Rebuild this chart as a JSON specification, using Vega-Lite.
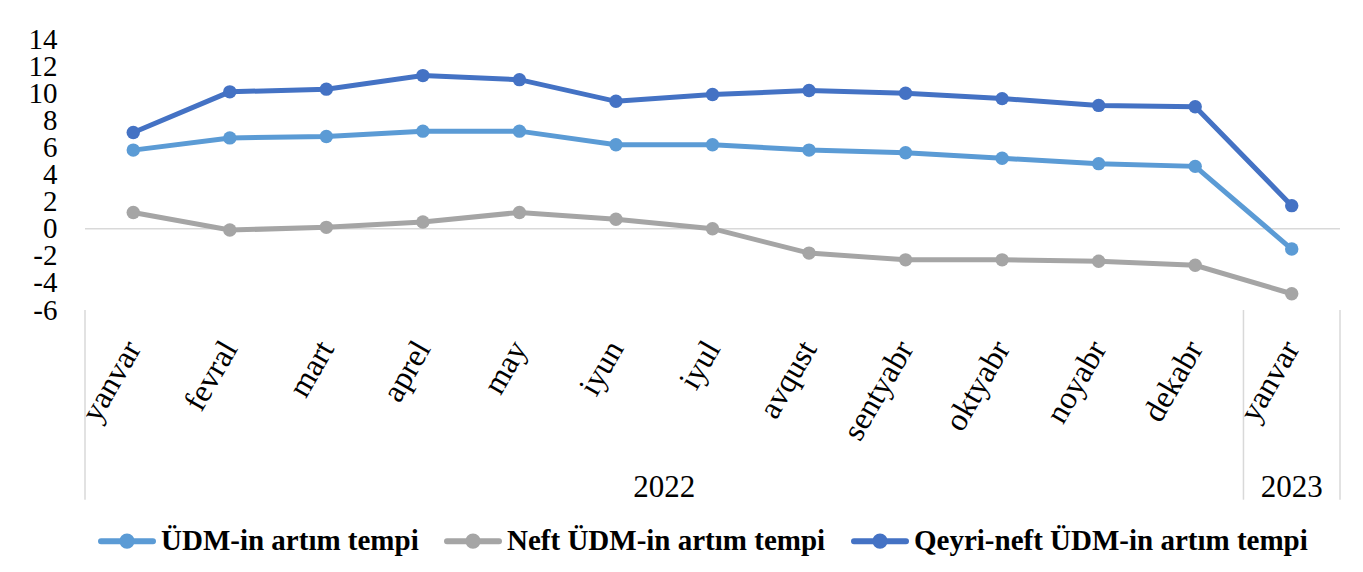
{
  "$schema": "https://vega.github.io/schema/vega-lite/v6.json",
  "width": 1255,
  "height": 271,
  "autosize": "none",
  "padding": {"left": 85, "top": 39, "right": 23, "bottom": 262},
  "background": "white",
  "config": {
    "view": {"stroke": null},
    "font": "Liberation Serif",
    "axisY": {
      "labelOverlap": false,
      "labelFlush": false,
      "labelBound": false,
      "grid": false,
      "domain": false,
      "ticks": false,
      "tickSize": 0,
      "labelPadding": 28,
      "labelFont": "Liberation Serif",
      "labelFontSize": 29,
      "labelColor": "#000000",
      "labelBaseline": "middle",
      "title": null
    }
  },
  "datasets": {
    "series": [
      {"key": "yanvar 2022", "series": "ÜDM-in artım tempi", "value": 5.8},
      {"key": "fevral 2022", "series": "ÜDM-in artım tempi", "value": 6.7},
      {"key": "mart 2022", "series": "ÜDM-in artım tempi", "value": 6.8},
      {"key": "aprel 2022", "series": "ÜDM-in artım tempi", "value": 7.2},
      {"key": "may 2022", "series": "ÜDM-in artım tempi", "value": 7.2},
      {"key": "iyun 2022", "series": "ÜDM-in artım tempi", "value": 6.2},
      {"key": "iyul 2022", "series": "ÜDM-in artım tempi", "value": 6.2},
      {"key": "avqust 2022", "series": "ÜDM-in artım tempi", "value": 5.8},
      {"key": "sentyabr 2022", "series": "ÜDM-in artım tempi", "value": 5.6},
      {"key": "oktyabr 2022", "series": "ÜDM-in artım tempi", "value": 5.2},
      {"key": "noyabr 2022", "series": "ÜDM-in artım tempi", "value": 4.8},
      {"key": "dekabr 2022", "series": "ÜDM-in artım tempi", "value": 4.6},
      {"key": "yanvar 2023", "series": "ÜDM-in artım tempi", "value": -1.5},
      {"key": "yanvar 2022", "series": "Neft ÜDM-in artım tempi", "value": 1.2},
      {"key": "fevral 2022", "series": "Neft ÜDM-in artım tempi", "value": -0.1},
      {"key": "mart 2022", "series": "Neft ÜDM-in artım tempi", "value": 0.1},
      {"key": "aprel 2022", "series": "Neft ÜDM-in artım tempi", "value": 0.5},
      {"key": "may 2022", "series": "Neft ÜDM-in artım tempi", "value": 1.2},
      {"key": "iyun 2022", "series": "Neft ÜDM-in artım tempi", "value": 0.7},
      {"key": "iyul 2022", "series": "Neft ÜDM-in artım tempi", "value": 0.0},
      {"key": "avqust 2022", "series": "Neft ÜDM-in artım tempi", "value": -1.8},
      {"key": "sentyabr 2022", "series": "Neft ÜDM-in artım tempi", "value": -2.3},
      {"key": "oktyabr 2022", "series": "Neft ÜDM-in artım tempi", "value": -2.3},
      {"key": "noyabr 2022", "series": "Neft ÜDM-in artım tempi", "value": -2.4},
      {"key": "dekabr 2022", "series": "Neft ÜDM-in artım tempi", "value": -2.7},
      {"key": "yanvar 2023", "series": "Neft ÜDM-in artım tempi", "value": -4.8},
      {"key": "yanvar 2022", "series": "Qeyri-neft ÜDM-in artım tempi", "value": 7.1},
      {"key": "fevral 2022", "series": "Qeyri-neft ÜDM-in artım tempi", "value": 10.1},
      {"key": "mart 2022", "series": "Qeyri-neft ÜDM-in artım tempi", "value": 10.3},
      {"key": "aprel 2022", "series": "Qeyri-neft ÜDM-in artım tempi", "value": 11.3},
      {"key": "may 2022", "series": "Qeyri-neft ÜDM-in artım tempi", "value": 11.0},
      {"key": "iyun 2022", "series": "Qeyri-neft ÜDM-in artım tempi", "value": 9.4},
      {"key": "iyul 2022", "series": "Qeyri-neft ÜDM-in artım tempi", "value": 9.9},
      {"key": "avqust 2022", "series": "Qeyri-neft ÜDM-in artım tempi", "value": 10.2},
      {"key": "sentyabr 2022", "series": "Qeyri-neft ÜDM-in artım tempi", "value": 10.0},
      {"key": "oktyabr 2022", "series": "Qeyri-neft ÜDM-in artım tempi", "value": 9.6},
      {"key": "noyabr 2022", "series": "Qeyri-neft ÜDM-in artım tempi", "value": 9.1},
      {"key": "dekabr 2022", "series": "Qeyri-neft ÜDM-in artım tempi", "value": 9.0},
      {"key": "yanvar 2023", "series": "Qeyri-neft ÜDM-in artım tempi", "value": 1.7}
    ]
  },
  "encoding": {
    "x": {
      "field": "key",
      "type": "ordinal",
      "scale": {
        "type": "band",
        "paddingInner": 0,
        "paddingOuter": 0,
        "domain": ["yanvar 2022", "fevral 2022", "mart 2022", "aprel 2022", "may 2022", "iyun 2022", "iyul 2022", "avqust 2022", "sentyabr 2022", "oktyabr 2022", "noyabr 2022", "dekabr 2022", "yanvar 2023"]
      },
      "axis": {
        "title": null,
        "domain": false,
        "ticks": false,
        "tickSize": 0,
        "labelExpr": "split(datum.value, ' ')[0]",
        "labelAngle": -60,
        "labelAlign": "right",
        "labelBaseline": "middle",
        "labelPadding": 33,
        "labelOverlap": false,
        "labelFont": "Liberation Serif",
        "labelFontSize": 32,
        "labelColor": "#000000"
      }
    },
    "y": {
      "field": "value",
      "type": "quantitative",
      "scale": {"domain": [-6, 14], "nice": false, "zero": false},
      "axis": {
        "values": [-6, -4, -2, 0, 2, 4, 6, 8, 10, 12, 14],
        "labelExpr": "'' + datum.value",
        "labelOverlap": false
      }
    }
  },
  "layer": [
    {
      "data": {"values": [{"value": 0}]},
      "mark": {"type": "rule", "color": "#d9d9d9", "strokeWidth": 1.5},
      "encoding": {"x": null}
    },
    {
      "data": {"values": [{"key": "yanvar 2022", "value": -6, "v2": -20}, {"key": "yanvar 2023", "value": -6, "v2": -20}]},
      "mark": {"type": "rule", "color": "#d9d9d9", "strokeWidth": 1.5},
      "encoding": {
        "x": {"field": "key", "type": "ordinal", "bandPosition": 0},
        "y2": {"field": "v2"}
      }
    },
    {
      "data": {"values": [{"key": "yanvar 2023", "value": -6, "v2": -20}]},
      "mark": {"type": "rule", "color": "#d9d9d9", "strokeWidth": 1.5},
      "encoding": {
        "x": {"field": "key", "type": "ordinal", "bandPosition": 1},
        "y2": {"field": "v2"}
      }
    },
    {
      "data": {"values": [{"key": "iyun 2022", "label": "2022", "value": -19.1}]},
      "mark": {"type": "text", "font": "Liberation Serif", "fontSize": 31, "color": "#000000", "baseline": "middle", "align": "center"},
      "encoding": {
        "x": {"field": "key", "type": "ordinal", "bandPosition": 1},
        "text": {"field": "label"}
      }
    },
    {
      "data": {"values": [{"key": "yanvar 2023", "label": "2023", "value": -19.1}]},
      "mark": {"type": "text", "font": "Liberation Serif", "fontSize": 31, "color": "#000000", "baseline": "middle", "align": "center"},
      "encoding": {
        "x": {"field": "key", "type": "ordinal", "bandPosition": 0.5},
        "text": {"field": "label"}
      }
    },
    {
      "data": {"name": "series"},
      "mark": {"type": "line", "strokeWidth": 5},
      "encoding": {
        "color": {
          "field": "series",
          "type": "nominal",
          "scale": {
            "domain": ["ÜDM-in artım tempi", "Neft ÜDM-in artım tempi", "Qeyri-neft ÜDM-in artım tempi"],
            "range": ["#5b9bd5", "#a5a5a5", "#4472c4"]
          },
          "legend": {
            "title": null,
            "orient": "none",
            "direction": "horizontal",
            "legendX": 13,
            "legendY": 473,
            "symbolType": "M-1,0L1,0M0.18,0A0.18,0.18,0,1,1,-0.18,0A0.18,0.18,0,1,1,0.18,0",
            "symbolSize": 2704,
            "symbolStrokeWidth": 6,
            "labelFont": "Liberation Serif",
            "labelFontSize": 29,
            "labelFontWeight": "bold",
            "labelColor": "#000000",
            "labelOffset": 5,
            "columnPadding": 16,
            "labelLimit": 1000,
            "encode": {"symbols": {"update": {"fill": {"scale": "color", "field": "value"}, "strokeCap": {"value": "round"}}}}
          }
        }
      }
    },
    {
      "data": {"name": "series"},
      "mark": {"type": "circle", "size": 180, "opacity": 1},
      "encoding": {
        "color": {"field": "series", "type": "nominal", "legend": null}
      }
    }
  ]
}
